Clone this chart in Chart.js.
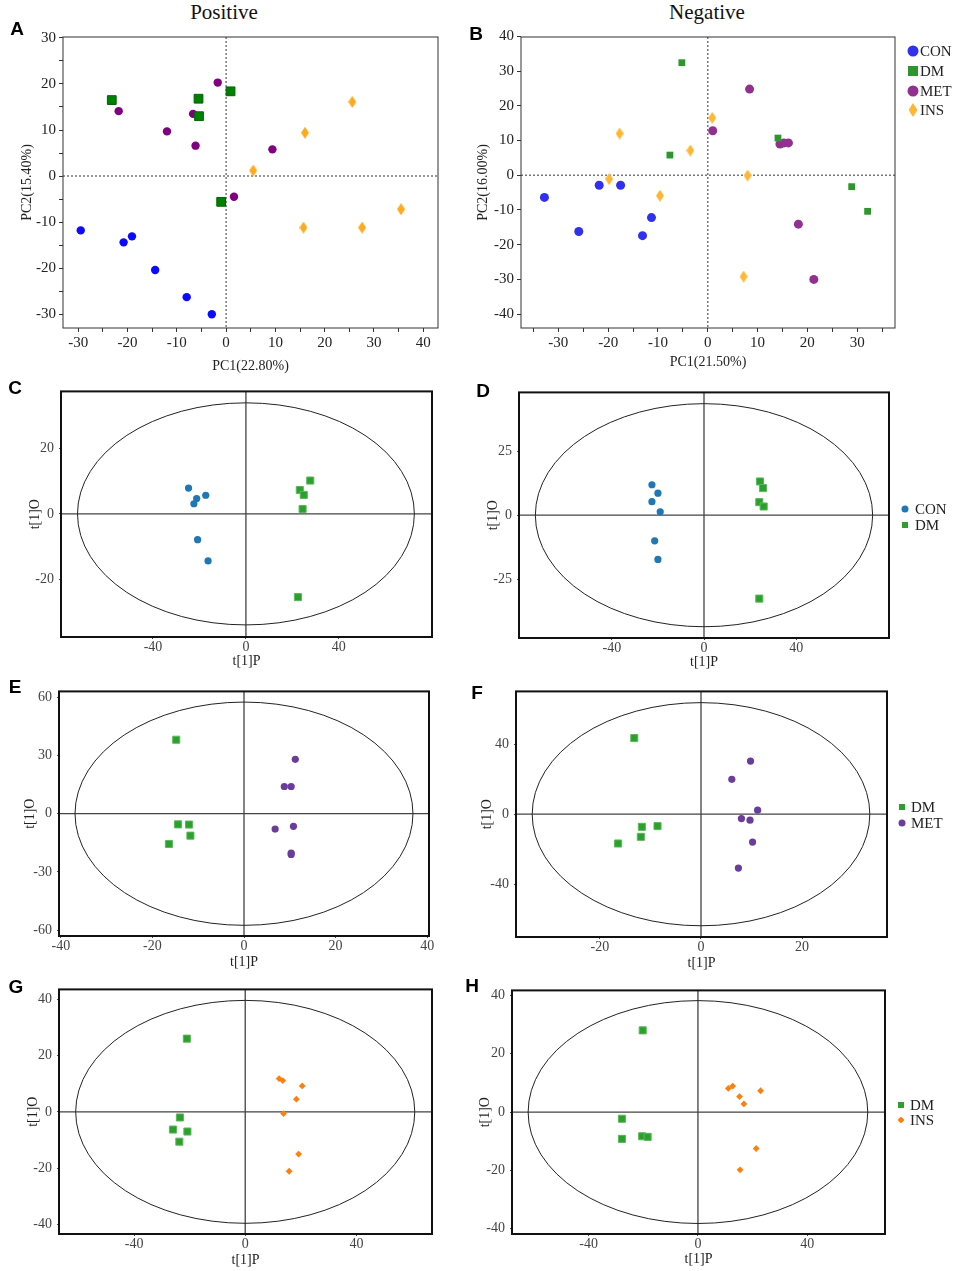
<!DOCTYPE html>
<html>
<head>
<meta charset="utf-8">
<script src="https://cdn.jsdelivr.net/npm/chart.js@4.4.1/dist/chart.umd.min.js"></script>
<style>
  body { margin: 0; background: #fff; width: 955px; height: 1271px; position: relative; overflow: hidden;
         font-family: "Liberation Serif", "Times New Roman", serif; }
  .box { position: absolute; }
  .letter { position: absolute; font-family: "Liberation Sans", Arial, sans-serif; font-weight: bold;
            font-size: 19px; color: #000; line-height: 1; transform: translate(-50%, -50%); }
  .head { position: absolute; font-size: 21px; color: #111; line-height: 1; white-space: nowrap;
          transform: translate(-50%, -50%); }
  .legtxt { position: absolute; color: #222; line-height: 1; white-space: nowrap; transform: translateY(-50%); }
  .mk { position: absolute; transform: translate(-50%, -50%); }
</style>
</head>
<body>
<script>
// ---- values ----
// A: PCA, positive mode
const posCON = [[-29.5,-11.8],[-20.8,-14.4],[-19.1,-13.1],[-14.4,-20.4],[-8.0,-26.3],[-2.9,-30.0]];
const posDM  = [[-23.2,16.5],[-5.6,16.8],[-5.5,13.0],[0.9,18.4],[-1.0,-5.6]];
const posMET = [[-1.7,20.3],[-21.8,14.1],[-6.7,13.5],[-12.0,9.7],[-6.2,6.6],[9.4,5.8],[1.6,-4.5]];
const posINS = [[25.6,16.1],[16.0,9.4],[5.5,1.2],[15.7,-11.2],[27.6,-11.2],[35.5,-7.2]];

// B: PCA, negative mode
const negCON = [[-32.8,-6.4],[-25.9,-16.2],[-21.8,-2.9],[-17.5,-2.9],[-11.3,-12.2],[-13.1,-17.4]];
const negDM  = [[-5.2,32.4],[-7.6,5.8],[14.1,10.7],[28.9,-3.3],[32.1,-10.4]];
const negMET = [[8.4,24.8],[1.0,12.8],[14.5,9.0],[15.3,9.3],[16.2,9.3],[18.2,-14.1],[21.3,-30.0]];
const negINS = [[-17.7,12.0],[0.9,16.5],[-3.5,7.1],[-19.8,-1.1],[-9.6,-5.9],[8.0,-0.1],[7.2,-29.2]];

// C-H: OPLS-DA score plots
const cCON = [[-24.7,7.9],[-21.2,4.7],[-22.4,3.1],[-17.3,5.7],[-20.8,-7.9],[-16.3,-14.4]];
const cDM  = [[27.7,10.2],[23.2,7.3],[24.9,5.8],[24.4,1.5],[22.4,-25.5]];
const dCON = [[-22.6,11.9],[-20.0,8.6],[-22.6,5.3],[-19.0,1.3],[-21.4,-10.0],[-20.0,-17.3]];
const dDM  = [[24.3,13.2],[25.6,10.6],[24.0,5.1],[25.9,3.4],[24.0,-32.6]];
const eDM  = [[-14.8,38.1],[-14.4,-5.5],[-12.0,-5.6],[-11.7,-11.3],[-16.4,-15.6]];
const eMET = [[11.2,28.0],[8.8,14.0],[10.3,14.0],[6.8,-7.9],[10.8,-6.5],[10.3,-20.3],[10.3,-21.0]];
const fDM  = [[-13.2,43.4],[-11.7,-7.2],[-8.6,-6.8],[-11.9,-12.9],[-16.4,-16.7]];
const fMET = [[9.8,30.3],[6.1,19.9],[11.2,2.3],[8.0,-2.5],[9.7,-3.4],[10.2,-15.9],[7.4,-30.7]];
const gDM  = [[-21.0,26.0],[-23.5,-2.0],[-26.0,-6.3],[-20.8,-7.0],[-23.7,-10.6]];
const gINS = [[12.2,11.8],[13.5,11.1],[20.5,9.2],[18.4,4.5],[13.8,-0.6],[19.2,-15.0],[15.8,-21.1]];
const hDM  = [[-20.2,28.0],[-27.8,-2.3],[-27.8,-9.2],[-20.4,-8.3],[-18.4,-8.5]];
const hINS = [[11.1,8.1],[12.7,8.9],[15.2,5.3],[16.8,2.8],[22.9,7.3],[21.3,-12.5],[15.4,-19.8]];

// tick values (all ticks) and the ones that carry a label
const aXTicks = [-30,-25,-20,-15,-10,-5,0,5,10,15,20,25,30,35,40];
const aYTicks = [-30,-25,-20,-15,-10,-5,0,5,10,15,20,25,30];
const bXTicks = [-35,-30,-25,-20,-15,-10,-5,0,5,10,15,20,25,30,35];
const bYTicks = [-40,-30,-20,-10,0,10,20,30,40];
const pcaLabeled = [-40,-30,-20,-10,0,10,20,30,40];
const cXTicks = [-40,0,40];
const cYTicks = [-20,0,20];
const dXTicks = [-40,0,40];
const dYTicks = [-25,0,25];
const eXTicks = [-40,-20,0,20,40];
const eYTicks = [-60,-30,0,30,60];
const fXTicks = [-20,0,20];
const fYTicks = [-40,0,40];
const gXTicks = [-40,0,40];
const gYTicks = [-40,-20,0,20,40];
const hXTicks = [-40,0,40];
const hYTicks = [-40,-20,0,20,40];

// 95% confidence ellipses (semi axes, in score units)
const cEllipse = [72.5, 34.0];
const dEllipse = [73.2, 43.6];
const eEllipse = [36.9, 57.5];
const fEllipse = [33.4, 63.6];
const gEllipse = [61.0, 39.6];
const hEllipse = [62.1, 38.2];

// ---- drawing ----
const SERIF = '"Liberation Serif", "Times New Roman", serif';

// tall diamond used by the PCA plots
function tallDiamond(w, h, color) {
  const c = document.createElement('canvas');
  c.width = w; c.height = h;
  const g = c.getContext('2d');
  g.fillStyle = color;
  g.beginPath();
  g.moveTo(w / 2, 0); g.lineTo(w, h / 2); g.lineTo(w / 2, h); g.lineTo(0, h / 2);
  g.closePath();
  g.fill();
  return c;
}

// zero lines, ellipse and frame
const panelDeco = {
  id: 'panelDeco',
  beforeDatasetsDraw(chart, args, opts) {
    const { ctx, chartArea: a } = chart;
    const x = chart.scales.x, y = chart.scales.y;
    const x0 = x.getPixelForValue(0), y0 = y.getPixelForValue(0);
    ctx.save();
    ctx.strokeStyle = opts.zeroColor;
    ctx.lineWidth = opts.zeroWidth;
    ctx.setLineDash(opts.zeroDash || []);
    ctx.beginPath();
    ctx.moveTo(a.left, y0); ctx.lineTo(a.right, y0);
    ctx.moveTo(x0, a.top); ctx.lineTo(x0, a.bottom);
    ctx.stroke();
    ctx.setLineDash([]);
    if (opts.ellipse) {
      const rx = x.getPixelForValue(opts.ellipse[0]) - x0;
      const ry = y0 - y.getPixelForValue(opts.ellipse[1]);
      ctx.strokeStyle = '#222';
      ctx.lineWidth = 1;
      ctx.beginPath();
      ctx.ellipse(x0, y0, rx, ry, 0, 0, Math.PI * 2);
      ctx.stroke();
    }
    ctx.restore();
  },
  afterDraw(chart, args, opts) {
    const { ctx, chartArea: a } = chart;
    ctx.save();
    ctx.strokeStyle = opts.frameColor;
    ctx.lineWidth = opts.frameWidth;
    ctx.strokeRect(a.left, a.top, a.right - a.left, a.bottom - a.top);
    ctx.restore();
  }
};
Chart.register(panelDeco);

function series(label, pts, style) {
  return Object.assign({ label, data: pts.map(p => ({ x: p[0], y: p[1] })) }, style);
}

function makePanel(p) {
  const AXW = p.axw, AXH = p.axh, PT = 12, PR = 14;
  const [L, T, R, B] = p.frame;
  const left = L - AXW, top = T - PT;
  const W = R - L + AXW + PR, H = B - T + PT + AXH;
  const box = document.createElement('div');
  box.className = 'box';
  box.style.left = left + 'px';
  box.style.top = top + 'px';
  const cv = document.createElement('canvas');
  cv.width = W; cv.height = H;
  box.appendChild(cv);
  document.body.appendChild(box);

  const lh = p.titleSize * 1.2;
  const axis = (horizontal, range, ticks, labeled, title) => ({
    type: 'linear',
    position: horizontal ? 'bottom' : 'left',
    min: range[0], max: range[1],
    afterBuildTicks: s => { s.ticks = ticks.map(v => ({ value: v })); },
    afterFit: s => { if (horizontal) s.height = AXH; else s.width = AXW; },
    grid: { drawOnChartArea: false, drawTicks: true, tickLength: p.tickLen, color: p.tickColor, lineWidth: 1 },
    border: { display: false },
    ticks: {
      autoSkip: false, maxRotation: 0, padding: horizontal ? p.xPad : p.yPad, color: p.labelColor,
      font: { family: SERIF, size: p.labelSize },
      callback: v => (labeled.includes(v) ? String(v) : '')
    },
    title: {
      display: true, text: title, color: p.titleColor,
      font: { family: SERIF, size: p.titleSize },
      padding: horizontal
        ? { top: 0, bottom: (top + H) - p.xTitleY - lh / 2 }
        : { top: p.yTitleX - left - lh / 2, bottom: 0 }
    }
  });

  new Chart(cv, {
    type: 'scatter',
    data: { datasets: p.datasets },
    options: {
      responsive: false,
      animation: false,
      layout: { padding: { top: PT, right: PR, left: 0, bottom: 0 } },
      plugins: {
        legend: { display: false },
        tooltip: { enabled: false },
        panelDeco: {
          zeroColor: p.zeroColor, zeroWidth: p.zeroWidth, zeroDash: p.zeroDash,
          ellipse: p.ellipse, frameColor: p.frameColor, frameWidth: p.frameWidth
        }
      },
      scales: {
        x: axis(true, p.xRange, p.xTicks, p.xLabeled || p.xTicks, p.xTitle),
        y: axis(false, p.yRange, p.yTicks, p.yLabeled || p.yTicks, p.yTitle)
      }
    }
  });
}

const pcaStyle = {
  axw: 58, axh: 48, tickLen: 4, xPad: 2, yPad: 3, tickColor: '#333', labelColor: '#222', labelSize: 15,
  titleColor: '#222', titleSize: 14, zeroColor: '#777', zeroWidth: 1.5, zeroDash: [2, 2],
  frameColor: '#333', frameWidth: 1, ellipse: null
};
const oplsStyle = {
  axw: 52, axh: 36, tickLen: 2, xPad: 0, yPad: 5, tickColor: '#444', labelColor: '#444', labelSize: 14,
  titleColor: '#222', titleSize: 14, zeroColor: '#444', zeroWidth: 1.3, zeroDash: [],
  frameColor: '#111', frameWidth: 2
};

// marker styles
const pA = {
  CON: { pointStyle: 'circle', pointRadius: 4.2, backgroundColor: '#0a0aff', borderColor: '#0a0aff', borderWidth: 0 },
  DM:  { pointStyle: 'rect', pointRadius: 6.2, backgroundColor: '#008000', borderColor: '#006400', borderWidth: 1 },
  MET: { pointStyle: 'circle', pointRadius: 4.2, backgroundColor: '#800080', borderColor: '#800080', borderWidth: 0 },
  INS: { pointStyle: tallDiamond(8, 12, '#ffaa1e'), pointRadius: 5, borderWidth: 0 }
};
const pB = {
  CON: { pointStyle: 'circle', pointRadius: 4.5, backgroundColor: '#3030ee', borderColor: '#3030ee', borderWidth: 0 },
  DM:  { pointStyle: 'rect', pointRadius: 4.8, backgroundColor: '#2f962f', borderColor: '#2f962f', borderWidth: 0 },
  MET: { pointStyle: 'circle', pointRadius: 4.5, backgroundColor: '#923092', borderColor: '#923092', borderWidth: 0 },
  INS: { pointStyle: tallDiamond(8, 12, '#ffb733'), pointRadius: 5, borderWidth: 0 }
};
const pO = {
  CON: { pointStyle: 'circle', pointRadius: 3.6, backgroundColor: '#1f77b4', borderColor: '#1f77b4', borderWidth: 0 },
  DM:  { pointStyle: 'rect', pointRadius: 5, backgroundColor: '#2ca02c', borderColor: '#5cb85c', borderWidth: 1 },
  MET: { pointStyle: 'circle', pointRadius: 3.6, backgroundColor: '#6a3d9a', borderColor: '#6a3d9a', borderWidth: 0 },
  INS: { pointStyle: 'rectRot', pointRadius: 3.4, backgroundColor: '#ff7f0e', borderColor: '#ff7f0e', borderWidth: 0 }
};

makePanel(Object.assign({}, pcaStyle, {
  frame: [63, 37, 438, 328], xRange: [-33.1, 43], yRange: [-33, 30.2],
  xTicks: aXTicks, yTicks: aYTicks, xLabeled: pcaLabeled, yLabeled: pcaLabeled,
  xTitle: 'PC1(22.80%)', yTitle: 'PC2(15.40%)', xTitleY: 366, yTitleX: 27,
  datasets: [series('CON', posCON, pA.CON), series('DM', posDM, pA.DM),
             series('MET', posMET, pA.MET), series('INS', posINS, pA.INS)]
}));
makePanel(Object.assign({}, pcaStyle, {
  frame: [521, 37, 895, 328], xRange: [-37.5, 37.6], yRange: [-44, 39.8],
  xTicks: bXTicks, yTicks: bYTicks, xLabeled: pcaLabeled, yLabeled: pcaLabeled,
  xTitle: 'PC1(21.50%)', yTitle: 'PC2(16.00%)', xTitleY: 362, yTitleX: 483,
  datasets: [series('CON', negCON, pB.CON), series('DM', negDM, pB.DM),
             series('MET', negMET, pB.MET), series('INS', negINS, pB.INS)]
}));
makePanel(Object.assign({}, oplsStyle, {
  frame: [61, 390, 432, 637], xRange: [-79.6, 80.1], yRange: [-37.7, 37.5],
  xTicks: cXTicks, yTicks: cYTicks, xTitle: 't[1]P', yTitle: 't[1]O', xTitleY: 661, yTitleX: 35,
  ellipse: cEllipse,
  datasets: [series('CON', cCON, pO.CON), series('DM', cDM, pO.DM)]
}));
makePanel(Object.assign({}, oplsStyle, {
  frame: [519, 391, 889, 638], xRange: [-80.3, 80.3], yRange: [-48, 48],
  xTicks: dXTicks, yTicks: dYTicks, xTitle: 't[1]P', yTitle: 't[1]O', xTitleY: 662, yTitleX: 493,
  ellipse: dEllipse,
  datasets: [series('CON', dCON, pO.CON), series('DM', dDM, pO.DM)]
}));
makePanel(Object.assign({}, oplsStyle, {
  frame: [59, 690, 429, 936], xRange: [-40.4, 40.4], yRange: [-63, 63],
  xTicks: eXTicks, yTicks: eYTicks, xTitle: 't[1]P', yTitle: 't[1]O', xTitleY: 962, yTitleX: 30,
  ellipse: eEllipse,
  datasets: [series('DM', eDM, pO.DM), series('MET', eMET, pO.MET)]
}));
makePanel(Object.assign({}, oplsStyle, {
  frame: [516, 690, 887, 937], xRange: [-36.6, 36.8], yRange: [-70, 70],
  xTicks: fXTicks, yTicks: fYTicks, xTitle: 't[1]P', yTitle: 't[1]O', xTitleY: 963, yTitleX: 487,
  ellipse: fEllipse,
  datasets: [series('DM', fDM, pO.DM), series('MET', fMET, pO.MET)]
}));
makePanel(Object.assign({}, oplsStyle, {
  frame: [59, 988, 432, 1234], xRange: [-67, 67.2], yRange: [-43.4, 43.5],
  xTicks: gXTicks, yTicks: gYTicks, xTitle: 't[1]P', yTitle: 't[1]O', xTitleY: 1260, yTitleX: 33,
  ellipse: gEllipse,
  datasets: [series('DM', gDM, pO.DM), series('INS', gINS, pO.INS)]
}));
makePanel(Object.assign({}, oplsStyle, {
  frame: [512, 989, 885, 1234], xRange: [-68, 68.4], yRange: [-41.8, 41.7],
  xTicks: hXTicks, yTicks: hYTicks, xTitle: 't[1]P', yTitle: 't[1]O', xTitleY: 1259, yTitleX: 485,
  ellipse: hEllipse,
  datasets: [series('DM', hDM, pO.DM), series('INS', hINS, pO.INS)]
}));

// ---- html text: headings, panel letters, legends ----
function addText(cls, text, x, y, extra) {
  const d = document.createElement('div');
  d.className = cls;
  d.textContent = text;
  d.style.left = x + 'px';
  d.style.top = y + 'px';
  if (extra) Object.assign(d.style, extra);
  document.body.appendChild(d);
}
addText('head', 'Positive', 224, 12);
addText('head', 'Negative', 707, 12);
[['A', 17, 28], ['B', 476, 33], ['C', 15, 387], ['D', 483, 390],
 ['E', 15, 686], ['F', 477, 692], ['G', 16, 986], ['H', 472, 985]]
  .forEach(l => addText('letter', l[0], l[1], l[2]));

function marker(shape, color, x, y, size) {
  const m = document.createElement('div');
  m.className = 'mk';
  m.style.left = x + 'px';
  m.style.top = y + 'px';
  m.style.background = color;
  if (shape === 'circle') {
    m.style.width = m.style.height = size + 'px';
    m.style.borderRadius = '50%';
  } else if (shape === 'square') {
    m.style.width = m.style.height = (size - 1) + 'px';
  } else if (shape === 'tall') {
    m.style.width = (size - 2) + 'px';
    m.style.height = (size + 3) + 'px';
    m.style.clipPath = 'polygon(50% 0, 100% 50%, 50% 100%, 0 50%)';
  } else {
    m.style.width = m.style.height = size + 'px';
    m.style.clipPath = 'polygon(50% 0, 100% 50%, 50% 100%, 0 50%)';
  }
  document.body.appendChild(m);
}
function legend(items, mx, tx, size, fs) {
  items.forEach(it => {
    marker(it[1], it[2], mx, it[3], size);
    addText('legtxt', it[0], tx, it[3], { fontSize: fs + 'px' });
  });
}
legend([['CON', 'circle', '#3030ee', 51], ['DM', 'square', '#2f962f', 71],
        ['MET', 'circle', '#923092', 91], ['INS', 'tall', '#ffb733', 110]], 913, 920, 11, 15);
legend([['CON', 'circle', '#1f77b4', 509], ['DM', 'square', '#2ca02c', 525]], 905, 915, 7, 15);
legend([['DM', 'square', '#2ca02c', 807], ['MET', 'circle', '#6a3d9a', 823]], 902, 911, 7, 15);
legend([['DM', 'square', '#2ca02c', 1105], ['INS', 'diamond', '#ff7f0e', 1120]], 901, 910, 7, 15);
</script>
</body>
</html>
